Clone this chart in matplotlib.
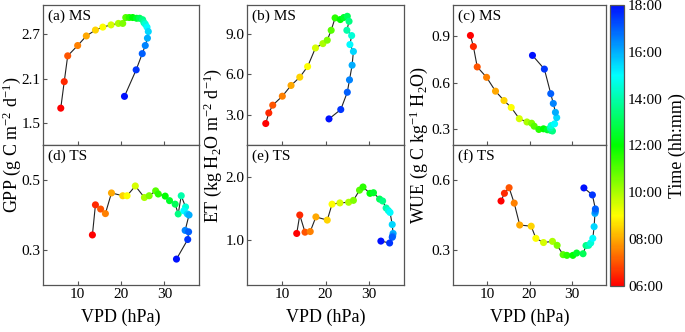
import numpy as np
import matplotlib
matplotlib.use("Agg")
import matplotlib.pyplot as plt
from matplotlib.colors import LinearSegmentedColormap, Normalize
from matplotlib.colorbar import ColorbarBase

plt.rcParams["font.family"] = ["Liberation Serif", "DejaVu Serif"]
plt.rcParams["mathtext.fontset"] = "custom"
plt.rcParams["mathtext.rm"] = "Liberation Serif"
plt.rcParams["mathtext.it"] = "Liberation Serif:italic"

# half-hourly time steps, 06:00 - 18:00
hours = np.arange(25) * 0.5 + 6

# (a) MS: VPD vs GPP
vpd_a = [6.1, 6.9, 7.7, 10.0, 12.0, 14.1, 15.8, 17.7, 19.4, 20.4, 21.1, 21.9, 22.7,
         23.6, 24.3, 25.0, 25.3, 25.6, 26.0, 26.3, 26.1, 25.6, 24.9, 23.5, 20.8]
gpp_ms = [1.70, 2.06, 2.41, 2.55, 2.68, 2.76, 2.80, 2.83, 2.85, 2.85, 2.93, 2.93, 2.93,
          2.92, 2.92, 2.90, 2.86, 2.84, 2.80, 2.74, 2.65, 2.55, 2.44, 2.22, 1.86]

# (b) MS: VPD vs ET
vpd_b = [6.3, 7.0, 7.9, 10.1, 12.1, 14.1, 15.9, 17.7, 19.4, 20.4, 21.3, 22.2, 23.4,
         24.2, 25.0, 25.4, 24.9, 26.0, 25.6, 26.4, 26.1, 25.5, 25.0, 23.5, 20.8]
et_ms = [2.38, 3.16, 3.73, 4.39, 5.18, 5.79, 6.57, 7.94, 8.26, 8.51, 9.24, 10.15, 10.03,
         10.18, 10.27, 9.90, 9.24, 8.85, 8.19, 7.68, 6.67, 5.59, 4.68, 3.41, 2.72]

# (c) MS: VPD vs WUE
vpd_c = [6.1, 6.8, 7.7, 9.9, 12.0, 14.0, 15.7, 17.6, 19.4, 20.5, 21.1, 22.2, 23.3,
         24.2, 25.0, 25.4, 24.9, 25.1, 25.9, 26.4, 26.1, 25.6, 25.0, 23.5, 20.7]
wue_ms = [0.904, 0.833, 0.702, 0.635, 0.546, 0.486, 0.441, 0.369, 0.348, 0.340, 0.321,
          0.300, 0.304, 0.298, 0.294, 0.290, 0.310, 0.325, 0.336, 0.376, 0.410, 0.467,
          0.530, 0.688, 0.776]

# (d) TS: VPD vs GPP
vpd_d = [13.4, 14.1, 15.3, 16.4, 17.8, 20.4, 21.4, 23.3, 25.4, 26.5, 28.0, 28.6, 30.2,
         31.2, 32.5, 33.2, 33.9, 34.9, 34.5, 35.3, 35.7, 34.8, 35.6, 35.4, 32.8]
gpp_ts = [0.343, 0.429, 0.417, 0.404, 0.463, 0.455, 0.455, 0.483, 0.450, 0.455, 0.469,
          0.460, 0.454, 0.441, 0.431, 0.403, 0.455, 0.423, 0.412, 0.403, 0.400, 0.356,
          0.352, 0.330, 0.274]

# (e) TS: VPD vs ET
vpd_e = [13.4, 14.1, 15.3, 16.5, 17.8, 20.4, 21.5, 23.3, 25.3, 26.4, 27.8, 28.6, 30.2,
         31.0, 32.4, 33.1, 33.9, 34.4, 34.8, 35.3, 35.5, 35.4, 35.3, 34.7, 32.7]
et_ts = [1.11, 1.40, 1.13, 1.14, 1.37, 1.32, 1.57, 1.59, 1.60, 1.63, 1.79, 1.84, 1.74,
         1.75, 1.65, 1.62, 1.51, 1.47, 1.44, 1.25, 1.11, 1.07, 1.05, 0.96, 0.99]

# (f) TS: VPD vs WUE
vpd_f = [13.3, 14.1, 15.2, 16.4, 17.7, 20.4, 21.5, 23.3, 25.4, 26.5, 27.9, 28.8, 30.2,
         31.1, 32.6, 33.3, 33.9, 34.4, 34.9, 35.2, 35.4, 35.5, 35.5, 34.8, 32.8]
wue_ts = [0.510, 0.543, 0.567, 0.501, 0.407, 0.402, 0.350, 0.332, 0.337, 0.320, 0.280,
          0.277, 0.277, 0.287, 0.284, 0.319, 0.320, 0.330, 0.350, 0.400, 0.457, 0.466,
          0.476, 0.536, 0.566]

cmap = LinearSegmentedColormap.from_list(
    "time", ["#ff0000", "#ffff00", "#00ff00", "#00ffff", "#0010ff"])
norm = Normalize(6, 18)

W, H = 685, 332
fig = plt.figure(figsize=(W / 100, H / 100), dpi=100)


def px_axes(left, top, width, height):
    return fig.add_axes([left / W, 1 - (top + height) / H, width / W, height / H])


cols = [(43, 156), (247, 157), (453, 153)]
panels = [
    (0, 0, vpd_a, gpp_ms, "(a) MS", (1.2, 3.1), [1.5, 2.1, 2.7]),
    (1, 0, vpd_b, et_ms, "(b) MS", (0.8, 11.1), [3.0, 6.0, 9.0]),
    (2, 0, vpd_c, wue_ms, "(c) MS", (0.2, 1.1), [0.3, 0.6, 0.9]),
    (0, 1, vpd_d, gpp_ts, "(d) TS", (0.2, 0.6), [0.3, 0.5]),
    (1, 1, vpd_e, et_ts, "(e) TS", (0.3, 2.5), [1.0, 2.0]),
    (2, 1, vpd_f, wue_ts, "(f) TS", (0.15, 0.75), [0.3, 0.6]),
]

edge = "#555555"
for c, r, xs, ys, label, ylim, yt in panels:
    left, width = cols[c]
    ax = px_axes(left, 5 + 140 * r, width, 140)
    ax.plot(xs, ys, color="#222222", lw=0.8, zorder=1)
    ax.scatter(xs, ys, c=hours, cmap=cmap, norm=norm, s=26, edgecolors="none", zorder=2)
    ax.set_xlim(2, 38)
    ax.set_ylim(*ylim)
    ax.set_xticks([10, 20, 30])
    ax.set_yticks(yt)
    ax.set_yticklabels(["%.1f" % v for v in yt])
    ax.tick_params(direction="in", length=3, width=0.8, color=edge,
                   labelsize=11, pad=2)
    if r == 0:
        ax.tick_params(labelbottom=False)
    else:
        ax.set_xlabel("VPD (hPa)", fontsize=13, labelpad=6)
    for s in ax.spines.values():
        s.set_color(edge)
        s.set_linewidth(0.9)
    ax.text(0.03, 0.97, label, transform=ax.transAxes, ha="left", va="top", fontsize=11)

fig.text(11.5 / W, 1 - 145 / H, "GPP (g C m$^{-2}$ d$^{-1}$)", rotation=90,
         ha="center", va="center", fontsize=13)
fig.text(213 / W, 1 - 145 / H, "ET (kg H$_2$O m$^{-2}$ d$^{-1}$)", rotation=90,
         ha="center", va="center", fontsize=13)
fig.text(419 / W, 1 - 145 / H, "WUE (g C kg$^{-1}$ H$_2$O)", rotation=90,
         ha="center", va="center", fontsize=13)

cax = px_axes(610, 5, 14, 281)
cb = ColorbarBase(cax, cmap=cmap, norm=norm, ticks=[6, 8, 10, 12, 14, 16, 18])
cb.set_ticklabels(["06:00", "08:00", "10:00", "12:00", "14:00", "16:00", "18:00"])
cb.ax.tick_params(length=0, labelsize=11, pad=3)
cb.outline.set_edgecolor(edge)
cb.outline.set_linewidth(0.9)
cb.set_label("Time (hh:mm)", fontsize=13, labelpad=4)

fig.savefig("out.png", dpi=100)
